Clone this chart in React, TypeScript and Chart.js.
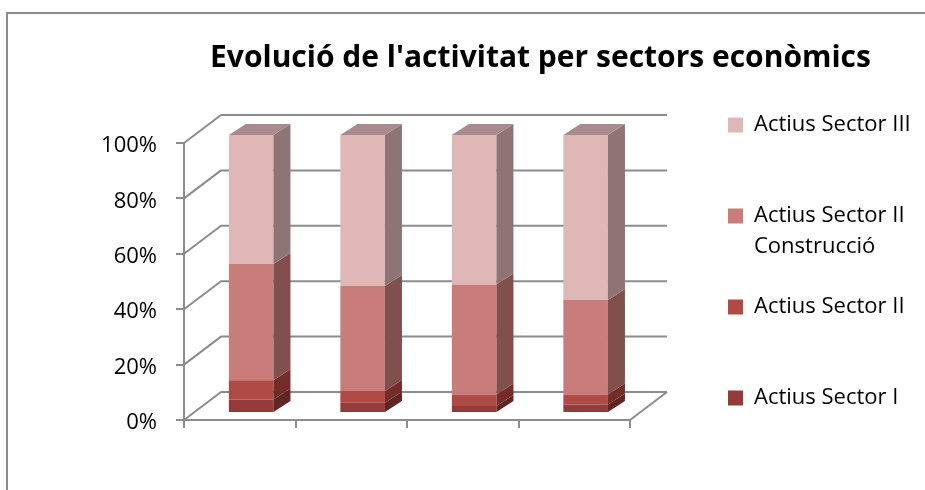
import React, { useEffect, useRef } from 'react';
import { Chart, registerables } from 'chart.js';

Chart.register(...registerables);

// ---------- data ----------
const categories = ['1', '2', '3', '4'];
const seriesNames = [
  'Actius Sector I',
  'Actius Sector II',
  'Actius Sector II Construcció',
  'Actius Sector III',
];
const sectorI = [4.5, 3.3, 2.2, 2.7];
const sectorII = [7.0, 4.3, 4.1, 3.6];
const construccio = [41.9, 37.9, 39.7, 34.1];
const sectorIII = [46.6, 54.5, 54.0, 59.6];
const yTickValues = [0, 20, 40, 60, 80, 100];
const chartTitle = "Evolució de l'activitat per sectors econòmics";

// ---------- styles ----------
const W = 925;
const H = 490;
const FONT = 'Open Sans';
const GRID = '#8c8c8c';
const FRONT_COLORS = ['#953a3a', '#b04a46', '#c97d7b', '#dfb7b7'];
const SIDE_COLORS = ['#5f2424', '#742c29', '#814f4e', '#8e7474'];
const TOP_COLOR = '#a98b8b';

const PLOT_LEFT = 184;
const PLOT_RIGHT = 630;
const PLOT_TOP = 143;
const PLOT_BOTTOM = 420;
const WALL_DX = 37;
const WALL_DY = -28;
const BAR_DX = 17;
const BAR_DY = -11;
const BAR_SHIFT_X = 11.4;
const BAR_SHIFT_Y = 8;
const LEGEND_LEFT = 699;
const LEGEND_TOP = 85;
const TITLE_SHIFT = 78;
const TITLE_SIZE = 30;
const TITLE_PAD_TOP = 40;
const LABEL_SIZE = 22;

const catPx = (PLOT_RIGHT - PLOT_LEFT) / categories.length;
const shiftX = BAR_SHIFT_X / catPx;
const liftY = (100 * BAR_SHIFT_Y) / (PLOT_BOTTOM - PLOT_TOP);

const wrapLabel = (t: string, max = 17): string[] => {
  const words = t.split(' ');
  const lines: string[] = [];
  let cur = '';
  for (const w of words) {
    const next = cur ? cur + ' ' + w : w;
    if (next.length > max && cur) {
      lines.push(cur);
      cur = w;
    } else cur = next;
  }
  if (cur) lines.push(cur);
  while (lines.length < 2) lines.push('');
  return lines;
};

const framePlugin = {
  id: 'frame',
  beforeDraw(chart: any) {
    const ctx = chart.ctx;
    ctx.save();
    ctx.fillStyle = '#ffffff';
    ctx.fillRect(0, 0, chart.width, chart.height);
    ctx.strokeStyle = GRID;
    ctx.lineWidth = 2;
    ctx.strokeRect(7, 13, 1200, 1200);
    ctx.restore();
  },
};

const layoutPlugin = {
  id: 'layoutFix',
  beforeLayout(chart: any) {
    const lg = chart.legend;
    if (lg && !lg.__pinned) {
      const orig = lg.fit;
      lg.fit = function () {
        orig.call(this);
        this.width = W - PLOT_RIGHT;
      };
      lg.__pinned = true;
    }
  },
  afterLayout(chart: any) {
    const lg = chart.legend;
    if (lg) {
      lg.left = LEGEND_LEFT;
      lg.right = W;
      lg.width = W - LEGEND_LEFT;
      lg.top = LEGEND_TOP;
      lg.bottom = H;
      lg.height = H - LEGEND_TOP;
    }
    const t = chart.titleBlock;
    if (t) {
      t.left += TITLE_SHIFT;
      t.right += TITLE_SHIFT;
    }
  },
};

const wallsPlugin = {
  id: 'walls',
  beforeDatasetsDraw(chart: any) {
    const ctx = chart.ctx;
    const y = chart.scales.y;
    const { left, right, bottom } = chart.chartArea;
    ctx.save();
    ctx.strokeStyle = GRID;
    ctx.lineWidth = 2;
    ctx.lineJoin = 'round';
    yTickValues.forEach((v) => {
      const py = y.getPixelForValue(v);
      ctx.beginPath();
      ctx.moveTo(left, py);
      ctx.lineTo(left + WALL_DX, py + WALL_DY);
      ctx.lineTo(right + WALL_DX, py + WALL_DY);
      ctx.stroke();
    });
    ctx.beginPath();
    ctx.moveTo(right, bottom);
    ctx.lineTo(right + WALL_DX, bottom + WALL_DY);
    ctx.stroke();
    ctx.restore();
  },
  afterDatasetsDraw(chart: any) {
    const ctx = chart.ctx;
    const n = chart.data.datasets.length;
    ctx.save();
    chart.data.datasets.forEach((_: any, di: number) => {
      const meta = chart.getDatasetMeta(di);
      meta.data.forEach((el: any) => {
        const { x, y, base, width } = el.getProps(['x', 'y', 'base', 'width'], true);
        const l = x - width / 2;
        const r = x + width / 2;
        ctx.fillStyle = SIDE_COLORS[di];
        ctx.beginPath();
        ctx.moveTo(r, y);
        ctx.lineTo(r + BAR_DX, y + BAR_DY);
        ctx.lineTo(r + BAR_DX, base + BAR_DY);
        ctx.lineTo(r, base);
        ctx.closePath();
        ctx.fill();
        if (di === n - 1) {
          ctx.fillStyle = TOP_COLOR;
          ctx.beginPath();
          ctx.moveTo(l, y);
          ctx.lineTo(l + BAR_DX, y + BAR_DY);
          ctx.lineTo(r + BAR_DX, y + BAR_DY);
          ctx.lineTo(r, y);
          ctx.closePath();
          ctx.fill();
        }
      });
    });
    ctx.restore();
  },
};

export default function App() {
  const ref = useRef<HTMLCanvasElement | null>(null);

  useEffect(() => {
    if (!ref.current) return;
    const series = [sectorI, sectorII, construccio, sectorIII];
    const chart = new Chart(ref.current, {
      type: 'bar',
      data: {
        labels: categories,
        datasets: series.map((vals, i) => ({
          label: seriesNames[i],
          data: vals.map((v, j) => ({ x: j, y: v })),
          backgroundColor: FRONT_COLORS[i],
          borderColor: FRONT_COLORS[i],
          borderWidth: 0,
          xAxisID: 'xb',
          yAxisID: 'yb',
          categoryPercentage: 1,
          barPercentage: 0.4,
          clip: false as any,
        })),
      },
      options: {
        responsive: false,
        animation: false,
        events: [],
        layout: { padding: 0 },
        scales: {
          x: {
            type: 'category',
            position: 'bottom',
            offset: true,
            grid: {
              offset: true,
              drawOnChartArea: false,
              drawTicks: true,
              tickLength: 8,
              color: GRID,
              lineWidth: 2,
            },
            border: { display: true, color: GRID, width: 2 },
            ticks: { display: false },
            afterFit: (s: any) => {
              s.height = H - PLOT_BOTTOM;
            },
          },
          y: {
            type: 'linear',
            position: 'left',
            min: 0,
            max: 100,
            afterBuildTicks: (s: any) => {
              s.ticks = yTickValues.map((v) => ({ value: v }));
            },
            ticks: {
              callback: (v: any) => v + '%',
              color: '#000000',
              font: { family: FONT, size: LABEL_SIZE },
              padding: 19,
              labelOffset: 3,
            },
            grid: {
              drawOnChartArea: false,
              drawTicks: true,
              tickLength: 8,
              color: GRID,
              lineWidth: 2,
            },
            border: { display: true, color: GRID, width: 2 },
            afterFit: (s: any) => {
              s.width = PLOT_LEFT;
            },
          },
          xb: {
            type: 'linear',
            display: false,
            position: 'bottom',
            offset: false,
            grace: 0,
            min: -0.5 - shiftX,
            max: categories.length - 0.5 - shiftX,
            stacked: true,
            afterBuildTicks: (s: any) => {
              s.ticks = categories.map((_, i) => ({ value: i }));
            },
          },
          yb: {
            type: 'linear',
            display: false,
            position: 'left',
            min: -liftY,
            max: 100 - liftY,
            stacked: true,
          },
        } as any,
        plugins: {
          tooltip: { enabled: false },
          title: {
            display: true,
            text: chartTitle,
            color: '#000000',
            align: 'center',
            font: { family: FONT, size: TITLE_SIZE, weight: 'bold', lineHeight: 1.2 },
            padding: { top: TITLE_PAD_TOP, bottom: PLOT_TOP - TITLE_PAD_TOP - TITLE_SIZE * 1.2 },
          },
          legend: {
            display: true,
            position: 'right',
            align: 'start',
            reverse: true,
            labels: {
              boxWidth: 15,
              boxHeight: 15,
              padding: 29,
              color: '#000000',
              font: { family: FONT, size: LABEL_SIZE, lineHeight: 31 / LABEL_SIZE },
              generateLabels: (c: any) => {
                const items = (Chart.defaults.plugins.legend.labels as any).generateLabels(c);
                return items.map((it: any) => ({ ...it, text: wrapLabel(String(it.text)) }));
              },
            },
          },
        },
      },
      plugins: [framePlugin, layoutPlugin, wallsPlugin],
    });
    return () => chart.destroy();
  }, []);

  return (
    <canvas
      ref={ref}
      width={W}
      height={H}
      style={{ position: 'fixed', left: 0, top: 0, width: W, height: H, display: 'block' }}
    />
  );
}
